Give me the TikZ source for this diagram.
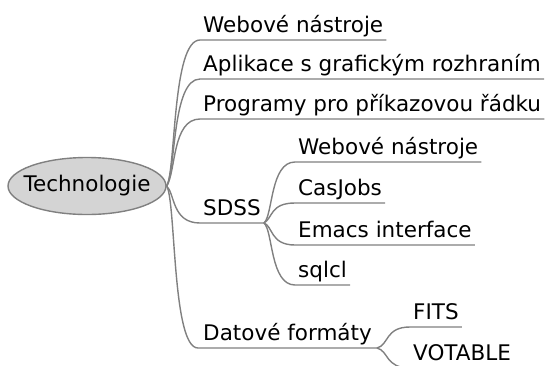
\documentclass[tikz,border=0pt]{standalone}
\usepackage{fontspec}
\setmainfont{DejaVu Sans}
\usetikzlibrary{shapes.geometric}
\definecolor{linegray}{HTML}{808080}
\definecolor{rootfill}{HTML}{D4D4D4}
\begin{document}
\begin{tikzpicture}[x=1bp,y=-1bp,
  br/.style={draw=linegray,line width=1.4bp},
  lab/.style={anchor=south west,inner xsep=3bp,inner ysep=0pt,text depth=7bp,
    font=\fontsize{21.5bp}{24bp}\selectfont},
  rootnode/.style={ellipse,draw=linegray,line width=1.4bp,fill=rootfill,
    minimum width=158bp,minimum height=57bp,inner sep=0pt},
  roottext/.style={inner sep=0pt,font=\fontsize{21.5bp}{24bp}\selectfont}]
\useasboundingbox (0,0) rectangle (549,365);
\node[rootnode] (root) at (87,186) {};
\node[roottext] (roottxt) at (root.center) {Technologie};
\node[lab] (w1) at (200,40) {Webové nástroje};
\node[lab] (apl) at (200,79) {Aplikace s grafickým rozhraním};
\node[lab] (prog) at (200,119) {Programy pro příkazovou řádku};
\node[lab] (sdss) at (200,223) {SDSS};
\node[lab] (sw) at (295,162) {Webové nástroje};
\node[lab] (cas) at (295,203) {CasJobs};
\node[lab] (emacs) at (295,245) {Emacs interface};
\node[lab] (sqlcl) at (295,285) {sqlcl};
\node[lab,inner xsep=5bp] (dat) at (198,348) {Datové formáty};
\node[lab] (fits) at (410,327) {FITS};
\node[lab] (vot) at (410,368) {VOTABLE};
% main branches
\draw[br] (root.east) .. controls (176,170) and (172,40) .. (w1.south west) -- (w1.south east);
\draw[br] (root.east) .. controls (176,170) and (172,79) .. (apl.south west) -- (apl.south east);
\draw[br] (root.east) .. controls (176,172) and (172,119) .. (prog.south west) -- (prog.south east);
\draw[br] (root.east) .. controls (175,194) and (172,223) .. (sdss.south west) -- (sdss.south east);
\draw[br] (root.east) .. controls (176,202) and (172,348) .. (dat.south west) -- (dat.south east);
% SDSS
\draw[br] (sdss.south east) .. controls (273,216) and (270,162) .. (sw.south west) -- (sw.south east);
\draw[br] (sdss.south east) .. controls (273,218) and (270,203) .. (cas.south west) -- (cas.south east);
\draw[br] (sdss.south east) .. controls (273,226) and (270,245) .. (emacs.south west) -- (emacs.south east);
\draw[br] (sdss.south east) .. controls (273,230) and (270,285) .. (sqlcl.south west) -- (sqlcl.south east);
% formats
\draw[br] (dat.south east) .. controls (389,345) and (385,327) .. (fits.south west) -- (fits.south east);
\draw[br] (dat.south east) .. controls (389,351) and (385,368) .. (vot.south west) -- (vot.south east);
\end{tikzpicture}
\end{document}
